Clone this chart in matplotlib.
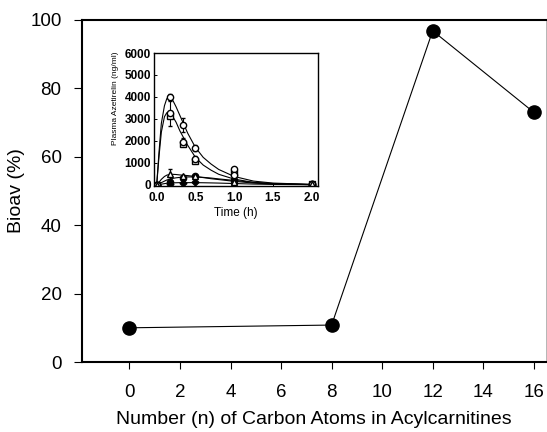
import matplotlib.pyplot as plt

# main panel: bioavailability vs chain length
carbons = [0, 8, 12, 16]
bioav = [10.0, 10.8, 96.8, 73.0]

# inset: measured plasma concentrations
t_obs = [0.0, 0.167, 0.333, 0.5, 1.0, 2.0]
conc_a = [0, 4000, 2720, 1680, 700, 50]
conc_a_err = [0, 150, 320, 150, 80, 20]
conc_b = [0, 3250, 1950, 1180, 450, 30]
conc_b_err = [0, 550, 200, 120, 60, 20]
conc_b2 = [0, 3120, 1880, 1100, 560, 30]
conc_c = [0, 480, 400, 380, 150, 20]
conc_c_err = [0, 220, 60, 50, 30, 10]
conc_d = [0, 150, 330, 420, 200, 30]
conc_e = [0, 50, 100, 120, 80, 10]

# inset: fitted curves
t_fit = [0, 0.03, 0.06, 0.1, 0.13, 0.16, 0.2, 0.25, 0.3, 0.4, 0.5, 0.6, 0.7, 0.8, 1.0, 1.25, 1.5, 2.0]
fit_a = [0, 1500, 2800, 3600, 3920, 3990, 3900, 3550, 3150, 2350, 1700, 1250, 950, 700, 380, 170, 80, 20]
fit_b = [0, 1300, 2400, 3100, 3280, 3300, 3150, 2850, 2450, 1800, 1250, 900, 670, 480, 260, 110, 50, 10]
fit_c = [0, 120, 250, 380, 440, 470, 480, 470, 450, 420, 380, 330, 280, 240, 160, 80, 40, 10]
fit_d = [0, 50, 100, 170, 220, 250, 290, 320, 340, 360, 360, 340, 310, 270, 200, 110, 60, 15]
fit_e = [0, 15, 30, 55, 70, 80, 90, 95, 100, 100, 100, 95, 88, 80, 60, 35, 20, 5]

plt.rcParams['font.family'] = ['Liberation Sans', 'DejaVu Sans']

fig = plt.figure(figsize=(5.47, 4.32), dpi=100)
ax = fig.add_axes([0.1494, 0.162, 0.849, 0.792])
ax.plot(carbons, bioav, color='black', linewidth=0.8, marker='o', markersize=9.5)
ax.set_xlim(-1.89, 16.49)
ax.set_ylim(0, 100)
ax.set_xticks(range(0, 17, 2))
ax.set_yticks(range(0, 101, 20))
ax.tick_params(axis='both', labelsize=13.5, direction='out', width=0.8)
ax.tick_params(axis='x', length=5, pad=11)
ax.tick_params(axis='y', length=5.5, pad=9)
ax.set_xlabel('Number (n) of Carbon Atoms in Acylcarnitines', fontsize=14, labelpad=7)
ax.set_ylabel('Bioav (%)', fontsize=14, labelpad=4)
for s in ['left', 'bottom', 'top']:
    ax.spines[s].set_linewidth(1.5)
ax.spines['right'].set_linewidth(0.5)
ax.spines['right'].set_color('#999999')

ins = fig.add_axes([0.2815, 0.5706, 0.2998, 0.3067])
for f in [fit_a, fit_b, fit_c, fit_d, fit_e]:
    ins.plot(t_fit, f, color='black', linewidth=0.8)
ins.errorbar(t_obs, conc_a, yerr=conc_a_err, fmt='o', mfc='white', mec='black',
             ecolor='black', ms=4.5, mew=1.0, elinewidth=0.8, capsize=1.5)
ins.errorbar(t_obs, conc_b, yerr=conc_b_err, fmt='o', mfc='white', mec='black',
             ecolor='black', ms=4.5, mew=1.0, elinewidth=0.8, capsize=1.5)
ins.plot(t_obs, conc_b2, 's', mfc='white', mec='black', ms=4, mew=1.0)
ins.errorbar(t_obs, conc_c, yerr=conc_c_err, fmt='^', mfc='white', mec='black',
             ecolor='black', ms=4.5, mew=1.0, elinewidth=0.8, capsize=1.5)
ins.plot(t_obs, conc_d, 'o', color='black', ms=4.5)
ins.plot(t_obs, conc_e, 'D', color='black', ms=3.5)
ins.set_xlim(-0.035, 2.08)
ins.set_ylim(-30, 6000)
ins.set_xticks([0.0, 0.5, 1.0, 1.5, 2.0])
ins.set_xticklabels(['0.0', '0.5', '1.0', '1.5', '2.0'])
ins.set_yticks(range(0, 6001, 1000))
ins.tick_params(axis='both', labelsize=8.5, length=2.5, width=0.7, direction='in')
ins.tick_params(axis='x', pad=4.5)
ins.tick_params(axis='y', pad=2)
for lab in ins.get_xticklabels() + ins.get_yticklabels():
    lab.set_fontweight('bold')
ins.set_xlabel('Time (h)', fontsize=8.5, labelpad=2)
ins.set_ylabel('Plasma Azetirelin (ng/ml)', fontsize=6)
ins.yaxis.set_label_coords(-0.213, 0.66)
for s in ins.spines.values():
    s.set_linewidth(1.0)

fig.savefig('out.png', dpi=100)
